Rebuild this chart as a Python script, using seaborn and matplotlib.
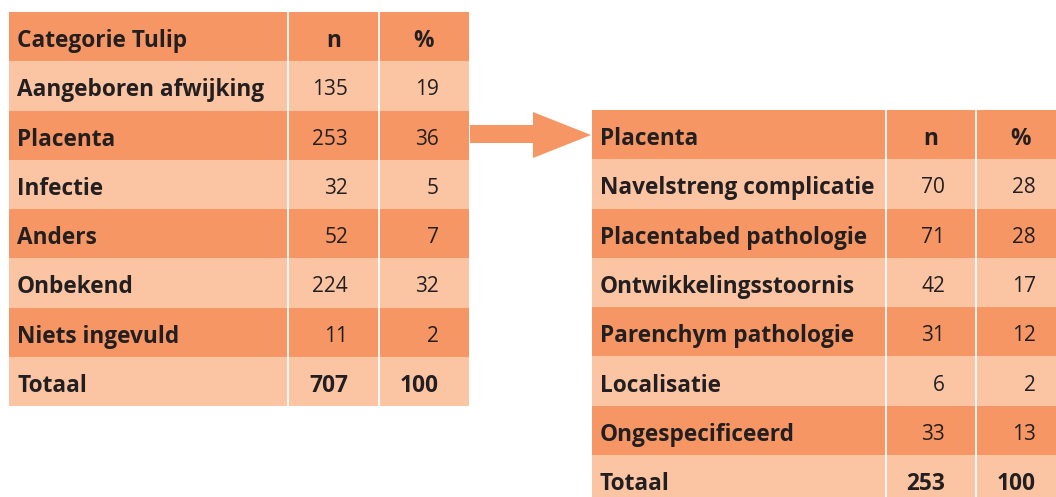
import numpy as np
import pandas as pd
import seaborn as sns
import matplotlib
matplotlib.use("Agg")
import matplotlib.pyplot as plt
from matplotlib.colors import ListedColormap
from matplotlib.patches import Polygon

# ---- data ----
left_header = ["Categorie Tulip", "n", "%"]
left_labels = ["Aangeboren afwijking", "Placenta", "Infectie", "Anders",
               "Onbekend", "Niets ingevuld"]
left_n = [135, 253, 32, 52, 224, 11]
left_pct = [19, 36, 5, 7, 32, 2]
left_total = ["Totaal", 707, 100]

right_header = ["Placenta", "n", "%"]
right_labels = ["Navelstreng complicatie", "Placentabed pathologie",
                "Ontwikkelingsstoornis", "Parenchym pathologie",
                "Localisatie", "Ongespecificeerd"]
right_n = [70, 71, 42, 31, 6, 33]
right_pct = [28, 28, 17, 12, 2, 13]
right_total = ["Totaal", 253, 100]

# ---- style ----
sns.set_theme(style="white")
plt.rcParams["font.family"] = ["Open Sans", "DejaVu Sans"]
DARK = "#F69664"
LIGHT = "#FBC5A4"
TEXT = "#231F20"
FSB = 16.3
FSN = 15
W, H = 1056, 497
fig = plt.figure(figsize=(W / 100, H / 100), dpi=100)

# arrow overlay (pixel coordinates)
ov = fig.add_axes([0, 0, 1, 1])
ov.set_xlim(0, W)
ov.set_ylim(H, 0)
ov.axis("off")
ov.add_patch(Polygon([(470, 125), (533, 125), (533, 112), (591, 135),
                      (533, 158), (533, 143), (470, 143)],
                     closed=True, facecolor=DARK, edgecolor="none"))


def draw_table(x0, y0, col_w, row_h, header, labels, ns, pcts, total):
    nrows = len(labels) + 2
    total_w = sum(col_w)
    ax = fig.add_axes([x0 / W, 1 - (y0 + nrows * row_h) / H,
                       total_w / W, nrows * row_h / H])
    shade = np.array([i % 2 for i in range(nrows)])
    mat = pd.DataFrame(np.repeat(shade[:, None], total_w, axis=1))
    sns.heatmap(mat, ax=ax, cmap=ListedColormap([DARK, LIGHT]), vmin=0,
                vmax=1, cbar=False, xticklabels=False, yticklabels=False)
    ax.collections[0].set_edgecolor("face")
    for e in np.cumsum(col_w)[:-1]:
        ax.axvline(e, color="white", lw=1.3)
    xl = 8
    xn = col_w[0] + col_w[1] - 31
    xp = total_w - 30
    cn = col_w[0] + col_w[1] / 2
    cp = col_w[0] + col_w[1] + col_w[2] / 2
    yc = lambda r: r + 0.53
    kb = dict(color=TEXT, fontsize=FSB, va="center_baseline", fontweight="bold")
    kn = dict(color=TEXT, fontsize=FSN, va="center_baseline")
    ax.text(xl, yc(0), header[0], ha="left", **kb)
    ax.text(cn, yc(0), header[1], ha="center", **kb)
    ax.text(cp, yc(0), header[2], ha="center", **kb)
    for i, (lab, n, p) in enumerate(zip(labels, ns, pcts)):
        r = i + 1
        ax.text(xl, yc(r), lab, ha="left", **kb)
        ax.text(xn, yc(r), str(n), ha="right", **kn)
        ax.text(xp, yc(r), str(p), ha="right", **kn)
    r = nrows - 1
    ax.text(xl, yc(r), total[0], ha="left", **kb)
    ax.text(xn, yc(r), str(total[1]), ha="right", **kb)
    ax.text(xp, yc(r), str(total[2]), ha="right", **kb)
    return ax


draw_table(9, 12, [279, 91, 90], 49.25, left_header, left_labels,
           left_n, left_pct, left_total)
draw_table(592, 110, [294, 90, 90], 49.3, right_header, right_labels,
           right_n, right_pct, right_total)

fig.savefig("out.png", dpi=100)
